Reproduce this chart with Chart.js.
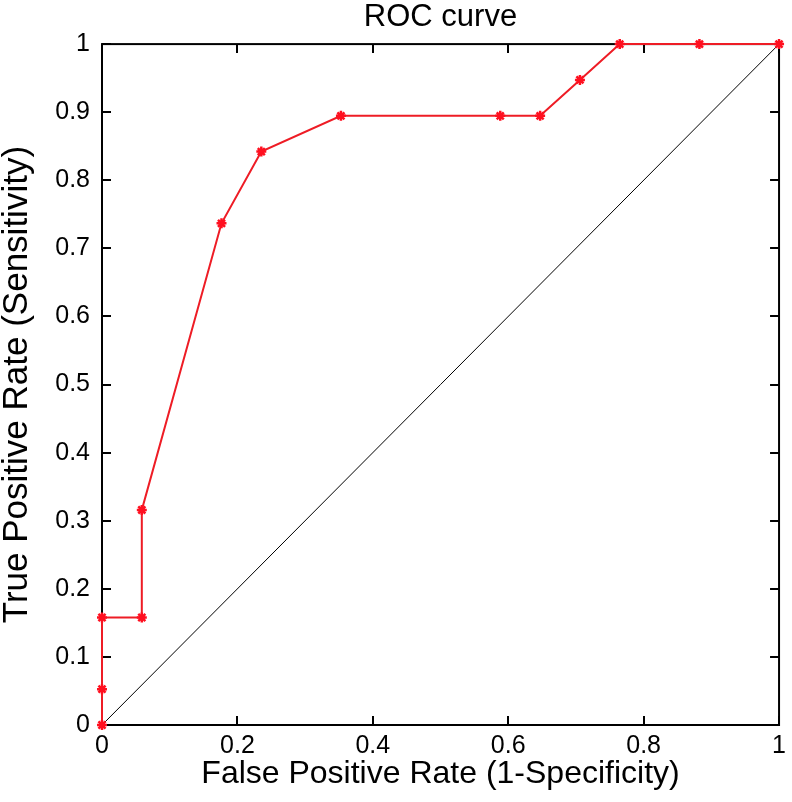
<!DOCTYPE html>
<html>
<head>
<meta charset="utf-8">
<script src="https://cdn.jsdelivr.net/npm/chart.js@4"></script>
<style>
  body { margin: 0; background: #fff; }
  #wrap { width: 792px; height: 802px; }
</style>
</head>
<body>
<div id="wrap"><canvas id="roc"></canvas></div>
<script>
// ROC points
const fpr = [0, 0, 0, 0.0588, 0.0588, 0.1765, 0.2353, 0.3529, 0.5882, 0.6471, 0.7059, 0.7647, 0.8824, 1];
const tpr = [0, 0.0526, 0.1579, 0.1579, 0.3158, 0.7368, 0.8421, 0.8947, 0.8947, 0.8947, 0.9474, 1, 1, 1];
const chanceX = [0, 1];
const chanceY = [0, 1];
const xTicks = [0, 0.2, 0.4, 0.6, 0.8, 1];
const yTicks = [0, 0.1, 0.2, 0.3, 0.4, 0.5, 0.6, 0.7, 0.8, 0.9, 1];

const FONT = "'Liberation Sans', Arial, sans-serif";

// matlab style box with inward ticks on all four sides
const boxPlugin = {
  id: 'box',
  beforeDatasetsDraw(chart) {
    const { ctx, chartArea: a, scales } = chart;
    const len = 9;
    ctx.save();
    ctx.strokeStyle = '#000';
    ctx.lineWidth = 2;
    ctx.strokeRect(a.left, a.top, a.right - a.left, a.bottom - a.top);
    ctx.beginPath();
    xTicks.forEach(v => {
      const px = Math.round(scales.x.getPixelForValue(v));
      ctx.moveTo(px, a.bottom); ctx.lineTo(px, a.bottom - len);
      ctx.moveTo(px, a.top); ctx.lineTo(px, a.top + len);
    });
    yTicks.forEach(v => {
      const py = Math.round(scales.y.getPixelForValue(v));
      ctx.moveTo(a.left, py); ctx.lineTo(a.left + len, py);
      ctx.moveTo(a.right, py); ctx.lineTo(a.right - len, py);
    });
    ctx.stroke();
    ctx.restore();
  }
};

new Chart(document.getElementById('roc'), {
  type: 'scatter',
  data: {
    datasets: [
      {
        label: 'ROC',
        data: fpr.map((x, i) => ({ x: x, y: tpr[i] })),
        showLine: true,
        borderColor: '#ee1c25',
        borderWidth: 2,
        pointStyle: 'star',
        pointRadius: 5,
        pointBorderWidth: 2.5,
        pointBorderColor: '#ff1020',
        pointBackgroundColor: '#ff1020',
        clip: false
      },
      {
        label: 'chance',
        data: chanceX.map((x, i) => ({ x: x, y: chanceY[i] })),
        showLine: true,
        borderColor: '#000',
        borderWidth: 1,
        pointRadius: 0
      }
    ]
  },
  options: {
    responsive: true,
    maintainAspectRatio: false,
    animation: false,
    layout: { padding: { left: 0, right: 10, top: 0, bottom: 0 } },
    plugins: {
      legend: { display: false },
      tooltip: { enabled: false },
      title: {
        display: true,
        text: 'ROC curve',
        fullSize: false,
        color: '#000',
        font: { family: FONT, size: 31, weight: 'normal', lineHeight: 1.1 },
        padding: { top: 0, bottom: 10 }
      }
    },
    scales: {
      x: {
        type: 'linear',
        min: 0,
        max: 1,
        afterBuildTicks: s => { s.ticks = xTicks.map(v => ({ value: v })); },
        afterFit: s => { s.height = 77; },
        grid: { display: false, drawTicks: false },
        border: { display: false },
        ticks: {
          padding: 6,
          color: '#000',
          font: { family: FONT, size: 25 },
          callback: v => String(+v.toFixed(1))
        },
        title: {
          display: true,
          text: 'False Positive Rate (1-Specificity)',
          color: '#000',
          font: { family: FONT, size: 32 },
          padding: { top: 0, bottom: 9 }
        }
      },
      y: {
        type: 'linear',
        min: 0,
        max: 1,
        afterBuildTicks: s => { s.ticks = yTicks.map(v => ({ value: v })); },
        afterFit: s => { s.width = 102; },
        grid: { display: false, drawTicks: false },
        border: { display: false },
        ticks: {
          padding: 12,
          color: '#000',
          font: { family: FONT, size: 25 },
          callback: v => String(+v.toFixed(1))
        },
        title: {
          display: true,
          text: 'True Positive Rate (Sensitivity)',
          color: '#000',
          font: { family: FONT, size: 35, lineHeight: 1 },
          padding: { top: 0, bottom: 0 }
        }
      }
    }
  },
  plugins: [boxPlugin]
});
</script>
</body>
</html>
